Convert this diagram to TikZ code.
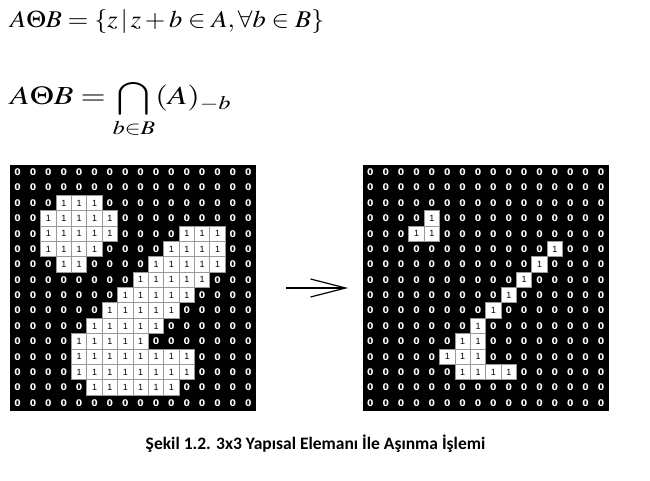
\documentclass[tikz,border=0pt]{standalone}
\usepackage{mathptmx}
\usepackage[no-math]{fontspec}
\setmainfont{Liberation Sans}
\newfontfamily\capfont{Carlito}
\newfontfamily\zerofamily{DejaVu Sans}
\usetikzlibrary{arrows.meta}
\newcommand{\zerofont}{\zerofamily\fontsize{9.2}{10}\selectfont\bfseries}
\newcommand{\onefont}{\fontsize{9}{10}\selectfont}
\def\cs{15.375}
\tikzset{
  gridbg/.style={fill=black, draw=none, minimum width=246pt, minimum height=246pt, inner sep=0pt, anchor=north west},
  zero/.style={text=white, font=\zerofont, inner sep=0pt},
  onecell/.style={fill=white, draw=gray!80, line width=0.8pt, minimum size=15.375pt, inner sep=0pt, font=\onefont, text=black},
  formula/.style={inner sep=0pt, anchor=base west},
  captext/.style={inner sep=0pt, anchor=base, font=\capfont\bfseries\fontsize{17.5}{19}\selectfont},
  arr/.style={line width=1.2pt, -{Straight Barb[length=35pt, width=18pt, line width=1.2pt]}}
}
\begin{document}
\begin{tikzpicture}[x=1pt, y=-1pt]
\useasboundingbox[fill=white] (0,0) rectangle (650,481);
% formulas
\node[formula, font=\fontsize{24}{26}\selectfont] (f1) at (10,28) {\scalebox{1.1}[1]{$A\Theta B=\{z\,|\,z+b\in A,\forall b\in B\}$}};
\node[formula, font=\fontsize{26}{28}\selectfont] (f2) at (10,105) {\scalebox{1.24}[1]{$\displaystyle A\Theta B=\bigcap_{b\in B}(A)_{-b}$}};
% grids
\node[gridbg] (L) at (10,164.5) {};
\node[gridbg] (R) at (362.7,164.5) {};
\foreach \g in {L,R}{
  \foreach \r in {0,...,15}{
    \foreach \c in {0,...,15}{
      \path (\g.north west) ++ ({(\c+0.5)*\cs},{(\r+0.5)*\cs}) node[zero] (\g-\r-\c) {0};
    }
  }
}
% ones of the left grid
\foreach \r/\cols in {2/{3,4,5},3/{2,3,4,5,6},4/{2,3,4,5,6,11,12,13},5/{2,3,4,5,10,11,12,13},6/{3,4,9,10,11,12,13},7/{8,9,10,11,12},8/{7,8,9,10,11},9/{6,7,8,9,10},10/{5,6,7,8,9},11/{4,5,6,7,8},12/{4,5,6,7,8,9,10,11},13/{4,5,6,7,8,9,10,11},14/{5,6,7,8,9,10}}{
  \foreach \c in \cols {
    \node[onecell] at (L-\r-\c) {1};
  }
}
% ones of the right grid
\foreach \r/\cols in {3/{4},4/{3,4},5/{12},6/{11},7/{10},8/{9},9/{8},10/{7},11/{6,7},12/{5,6,7},13/{6,7,8,9}}{
  \foreach \c in \cols {
    \node[onecell] at (R-\r-\c) {1};
  }
}
% arrow
\coordinate (as) at (286,288);
\coordinate (ae) at (348,288);
\draw[arr] (as) -- (ae);
% caption
\node[captext] (cap) at (315.5,449) {Şekil 1.2. 3x3 Yapısal Elemanı İle Aşınma İşlemi};
\end{tikzpicture}
\end{document}
